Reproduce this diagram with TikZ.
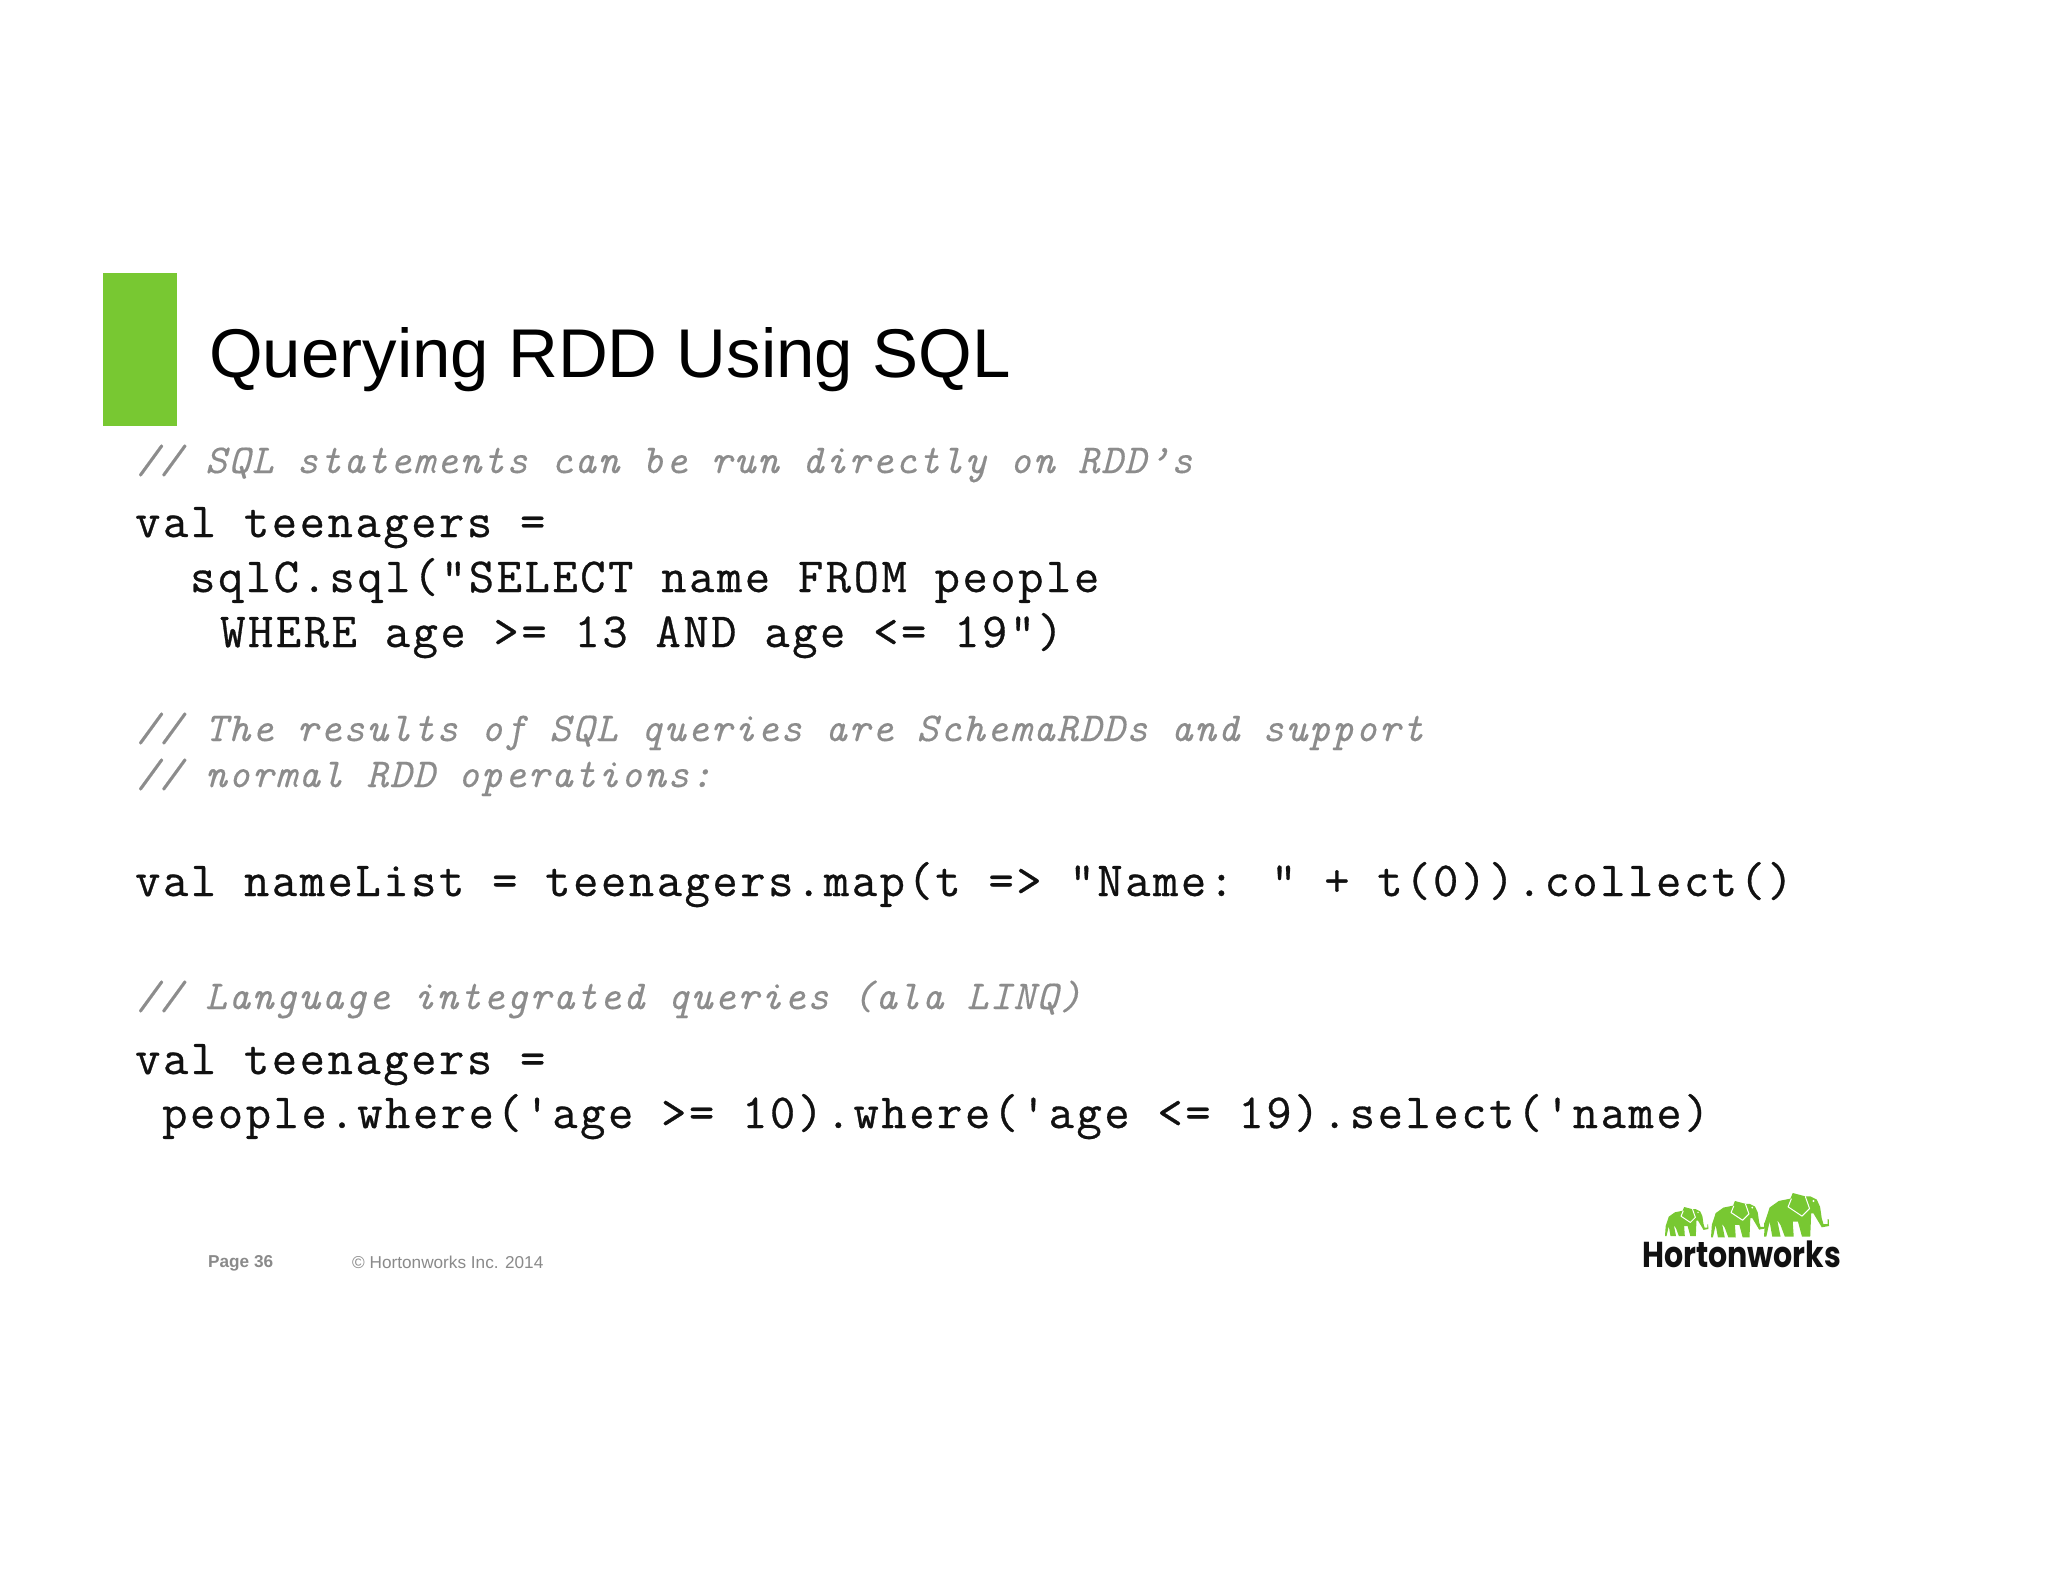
\documentclass[tikz,border=0pt]{standalone}
\usepackage{fontspec}
\setmainfont{Liberation Sans}
\newfontfamily\codefont{Latin Modern Mono}[LetterSpace=5.37,FakeBold=0.6]
\newfontfamily\cmtfont{Latin Modern Mono}[LetterSpace=4.3,FakeBold=0.3]
\newfontfamily\logofont{Poppins}
\definecolor{hwgreen}{HTML}{78C832}
\definecolor{cmtgray}{HTML}{8C8C8C}
\definecolor{footgray}{HTML}{8A8A8A}
\definecolor{inkblack}{HTML}{111111}
\tikzset{
  titletext/.style={anchor=base west,inner sep=0pt,font=\fontsize{69}{69}\selectfont,text=black},
  codeline/.style={anchor=base west,inner sep=0pt,font=\codefont\fontsize{49}{49}\selectfont,text=inkblack},
  cmtline/.style={anchor=base west,inner sep=0pt,font=\cmtfont\slshape\fontsize{41}{41}\selectfont,text=cmtgray},
  foottext/.style={anchor=base west,inner sep=0pt,font=\fontsize{17.2}{17.2}\selectfont,text=footgray},
  logotext/.style={anchor=base west,inner sep=0pt,xscale=0.835,font=\logofont\bfseries\fontsize{36}{36}\selectfont,text=inkblack},
  elephant/.pic={
    \fill[hwgreen] (3,87) -- (17,44) -- (45,24) -- (80,17) -- (87,0) -- (125,10) -- (140,10) -- (160,20) -- (170,42) -- (175,77) -- (180,94) -- (193,94) -- (193,79) -- (196,79) -- (197,100) -- (175,104) -- (165,87) -- (150,62) -- (143,62) -- (140,132) -- (115,132) -- (103,87) -- (87,87) -- (90,132) -- (63,132) -- (50,97) -- (40,82) -- (50,132) -- (25,132) -- (17,87) -- (7,132) -- (0,132) -- cycle;
    \draw[white,line width=1pt,line join=round] (83,17) -- (73,42) -- (115,70) -- (138,47) -- (125,10);
    \fill[white] (150,24) circle (3.5);
  }
}
\begin{document}
\begin{tikzpicture}[x=1pt,y=-1pt]
\useasboundingbox (0,0) rectangle (2048,1582);
\fill[white] (0,0) rectangle (2048,1582);
\node[fill=hwgreen,minimum width=74pt,minimum height=153pt,inner sep=0pt,anchor=north west] (bar) at (103,273) {};
\node[titletext] (title) at (209,377) {Querying RDD Using SQL};
\node[cmtline] (c1) at (137,473) {// SQL statements can be run directly on RDD’s};
\node[codeline] (l1) at (135,537) {val teenagers =};
\node[codeline] (l2) at (190,592) {sqlC.sql("SELECT name FROM people};
\node[codeline] (l3) at (220,647) {WHERE age >= 13 AND age <= 19")};
\node[cmtline] (c2) at (137,741) {// The results of SQL queries are SchemaRDDs and support};
\node[cmtline] (c3) at (137,787) {// normal RDD operations:};
\node[codeline] (l4) at (135,896) {val nameList = teenagers.map(t => "Name: " + t(0)).collect()};
\node[cmtline] (c4) at (137,1009) {// Language integrated queries (ala LINQ)};
\node[codeline] (l5) at (135,1074) {val teenagers =};
\node[codeline] (l6) at (162,1128) {people.where('age >= 10).where('age <= 19).select('name)};
\node[foottext,font=\bfseries\fontsize{17.2}{17.2}\selectfont] (pg) at (208,1267) {Page 36};
\node[foottext] (cr) at (352,1268) {© Hortonworks Inc. 2014};
\node[logotext] (logo) at (1642,1267) {Hortonworks};
\pic[scale=0.22] at (1665,1207) {elephant};
\pic[scale=0.275] at (1711,1201) {elephant};
\pic[scale=0.33] at (1764,1193) {elephant};
\end{tikzpicture}
\end{document}
